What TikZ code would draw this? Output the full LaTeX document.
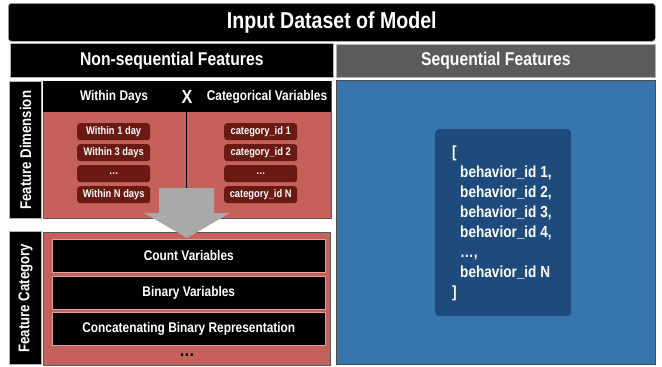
\documentclass[tikz,border=0pt]{standalone}
\usepackage{fontspec}
\setmainfont{Liberation Sans}[FakeStretch=0.85]
\begin{document}
\begin{tikzpicture}[x=1pt,y=-1pt,
  every node/.style={font=\bfseries, text=white, inner sep=0pt},
  blk/.style={fill=black, draw=gray!60, line width=0.6pt, anchor=north west},
  redbox/.style={fill=redc, draw=gray!70!black, line width=0.6pt, anchor=north west},
  pill/.style={fill=pillc, rounded corners=3pt, anchor=north west, minimum width=73pt, minimum height=17pt, font=\bfseries\fontsize{11}{12}\selectfont},
  bar/.style={fill=black, draw=redc!60!white, line width=0.6pt, anchor=north west, minimum width=273pt, minimum height=33pt, font=\bfseries\fontsize{14}{16}\selectfont},
  vlab/.style={blk, font=\bfseries\fontsize{15.5}{17}\selectfont},
  hdr/.style={font=\bfseries\fontsize{14}{16}\selectfont}
]
\definecolor{redc}{HTML}{C6605A}
\definecolor{pillc}{HTML}{6A1A12}
\definecolor{bluec}{HTML}{3675AD}
\definecolor{dbluec}{HTML}{1F4B7C}
\definecolor{grayh}{HTML}{5B5B5B}
\definecolor{arrowc}{HTML}{A9A9A9}
\useasboundingbox (0,0) rectangle (662,367);
\fill[white] (0,0) rectangle (662,367);
% title
\node[blk, rounded corners=3pt, minimum width=647pt, minimum height=38pt, font=\bfseries\fontsize{23}{26}\selectfont] (title) at (8,3) {Input Dataset of Model};
% section headers
\node[blk, minimum width=323pt, minimum height=34pt, font=\bfseries\fontsize{18.5}{20}\selectfont] (nonseq) at (10,43) {Non-sequential Features};
\node[blk, fill=grayh, minimum width=319pt, minimum height=33pt, font=\bfseries\fontsize{18.5}{20}\selectfont] (seq) at (336,44) {Sequential Features};
% sequential area
\node[anchor=north west, fill=bluec, draw=black!70, line width=0.8pt, minimum width=319pt, minimum height=284pt] (bluebox) at (336,80) {};
\node[anchor=north west, fill=dbluec, rounded corners=4pt, minimum width=136pt, minimum height=187pt] (inner) at (435,129) {};
\node[anchor=north west, align=left, font=\bfseries\fontsize{16}{20}\selectfont] (seqtext) at (452,146) {[\\
\hspace*{8pt}behavior\_id 1,\\
\hspace*{8pt}behavior\_id 2,\\
\hspace*{8pt}behavior\_id 3,\\
\hspace*{8pt}behavior\_id 4,\\
\hspace*{8pt}\dots,\\
\hspace*{8pt}behavior\_id N\\
]};
% feature dimension
\node[vlab, minimum width=137pt, minimum height=32pt, rotate=90, anchor=south west] (fdim) at (42,219) {Feature Dimension};
\node[redbox, minimum width=288pt, minimum height=137pt] (dimred) at (43,81) {};
\node[blk, draw=none, minimum width=288pt, minimum height=31pt] (dimhead) at (43,81) {};
\node[hdr] (wd) at (114,97) {Within Days};
\node[font=\bfseries\fontsize{19}{22}\selectfont] (xx) at (187,97) {X};
\node[hdr] (cv) at (267,97) {Categorical Variables};
\draw[black, line width=0.6pt] (186,112) -- (186,218);
\node[pill] (w1) at (77,123) {Within 1 day};
\node[pill] (w3) at (77,144) {Within 3 days};
\node[pill] (wd3) at (77,165) {\dots};
\node[pill] (wn) at (77,186) {Within N days};
\node[pill] (c1) at (224,123) {category\_id 1};
\node[pill] (c2) at (224,144) {category\_id 2};
\node[pill] (cd) at (224,165) {\dots};
\node[pill] (cn) at (224,186) {category\_id N};
% feature category
\node[vlab, minimum width=133pt, minimum height=32pt, rotate=90, anchor=south west] (fcat) at (42,365) {Feature Category};
\node[redbox, minimum width=287pt, minimum height=133pt] (catred) at (43,232) {};
% arrow
\fill[arrowc] (159,188) -- (214,188) -- (214,213) -- (230,213) -- (187,238) -- (144,213) -- (159,213) -- cycle;
\node[bar] (b1) at (52,239) {Count Variables};
\node[bar] (b2) at (52,276) {Binary Variables};
\node[bar] (b3) at (52,312) {Concatenating Binary Representation};
\node[text=black, font=\bfseries\fontsize{18}{18}\selectfont] (dots) at (187,355) {\dots};
\end{tikzpicture}
\end{document}
